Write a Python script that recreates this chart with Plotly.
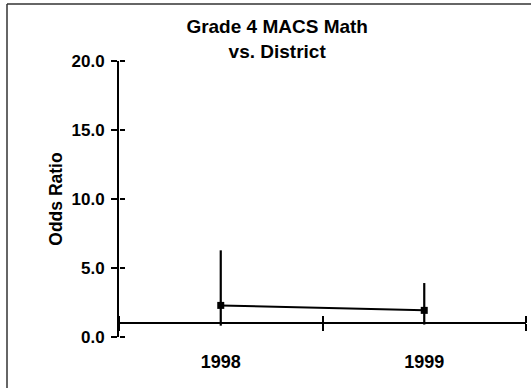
import plotly.graph_objects as go

# Odds ratios (with confidence interval limits) by school year
years = ["1998", "1999"]
odds_ratio = [2.29, 1.93]
ci_upper = [6.28, 3.91]
ci_lower = [0.82, 0.90]

y_ticks = [0, 5, 10, 15, 20]
y_tick_labels = ["0.0", "5.0", "10.0", "15.0", "20.0"]
y_range = [0, 20]
reference_level = 1.0  # odds ratio of 1 = no difference from the district

x_pos = list(range(len(years)))
x_range = [-0.5, len(years) - 0.5]
boundaries = [i - 0.5 for i in range(len(years) + 1)]

FONT = "Liberation Sans, Arial, sans-serif"

fig = go.Figure()

fig.add_trace(go.Scatter(
    x=x_pos, y=odds_ratio,
    mode="lines+markers",
    line=dict(color="black", width=2),
    marker=dict(symbol="square", size=7, color="black"),
    error_y=dict(
        type="data", symmetric=False,
        array=[u - v for u, v in zip(ci_upper, odds_ratio)],
        arrayminus=[v - l for v, l in zip(odds_ratio, ci_lower)],
        width=0, thickness=2.2, color="black",
    ),
    showlegend=False, hoverinfo="skip",
))

# empty traces that attach the overlay axes (crossing tick marks)
for xa, ya in (("x2", "y"), ("x3", "y"), ("x", "y2")):
    fig.add_trace(go.Scatter(x=[None], y=[None], xaxis=xa, yaxis=ya,
                             showlegend=False, hoverinfo="skip"))

ref_pos = (reference_level - y_range[0]) / (y_range[1] - y_range[0])

fig.update_layout(
    width=531, height=388,
    margin=dict(l=119, r=5, t=61, b=51),
    paper_bgcolor="white", plot_bgcolor="white",
    font=dict(family=FONT, color="black"),
    title=dict(
        text="Grade 4 MACS Math<br>vs. District",
        font=dict(size=19, weight="bold"),
        xref="container", x=0.522, xanchor="center",
        yref="container", y=0.915, yanchor="top",
    ),
    xaxis=dict(
        range=x_range, tickvals=x_pos, ticktext=years,
        ticks="outside", ticklen=8, tickcolor="rgba(0,0,0,0)",
        showline=False, showgrid=False, zeroline=False,
        tickfont=dict(size=18, weight="bold"),
    ),
    # odds ratio = 1 reference axis, ticks below...
    xaxis2=dict(
        overlaying="x", anchor="free", position=ref_pos, side="bottom",
        range=x_range, tickvals=boundaries, showticklabels=False,
        ticks="outside", ticklen=7, tickwidth=2, tickcolor="black",
        showline=True, linewidth=2, linecolor="black",
        showgrid=False, zeroline=False,
    ),
    # ...and above
    xaxis3=dict(
        overlaying="x", anchor="free", position=ref_pos, side="top",
        range=x_range, tickvals=boundaries, showticklabels=False,
        ticks="outside", ticklen=7, tickwidth=2, tickcolor="black",
        showline=False, showgrid=False, zeroline=False,
    ),
    yaxis=dict(
        range=y_range, tickvals=y_ticks, ticktext=y_tick_labels,
        ticks="outside", ticklen=6, tickwidth=2, tickcolor="black",
        showline=True, linewidth=2, linecolor="black",
        showgrid=False, zeroline=False,
        tickfont=dict(size=17, weight="bold"), ticklabelstandoff=3,
        title=dict(text="Odds Ratio", font=dict(size=17.5, weight="bold"), standoff=4),
    ),
    yaxis2=dict(
        overlaying="y", anchor="free", position=0, side="right",
        range=y_range, tickvals=y_ticks, showticklabels=False,
        ticks="outside", ticklen=5, tickwidth=2, tickcolor="black",
        showline=False, showgrid=False, zeroline=False,
    ),
    shapes=[
        # chart frame (left and top edges)
        dict(type="line", xref="paper", yref="paper",
             x0=(7 - 119) / 407, x1=(7 - 119) / 407, y0=1 + 57 / 276, y1=-0.3,
             line=dict(color="#333333", width=1.5)),
        dict(type="line", xref="paper", yref="paper",
             x0=(7 - 119) / 407, x1=1.1, y0=1 + 57 / 276, y1=1 + 57 / 276,
             line=dict(color="#333333", width=1.5)),
    ],
)

fig.write_html("out.html")
